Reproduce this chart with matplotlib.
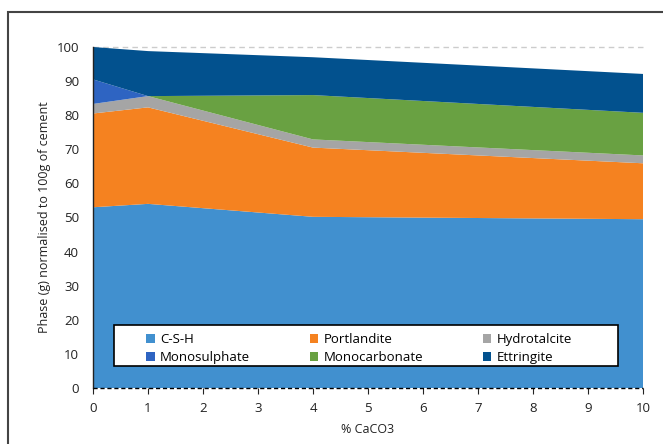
import matplotlib
matplotlib.use("Agg")
import matplotlib.pyplot as plt
from matplotlib.patches import Rectangle, Patch

plt.rcParams['font.family'] = ['Open Sans', 'DejaVu Sans']

caco3 = [0, 1, 4, 10]
csh = [53.0, 54.0, 50.2, 49.5]
portlandite = [27.5, 28.3, 20.3, 16.4]
hydrotalcite = [2.8, 3.3, 2.4, 2.3]
monosulphate = [7.2, 0.0, 0.0, 0.0]
monocarbonate = [0.0, 0.0, 13.0, 12.5]
ettringite = [9.5, 13.2, 11.1, 11.4]

labels = ['C-S-H', 'Portlandite', 'Hydrotalcite', 'Monosulphate', 'Monocarbonate', 'Ettringite']
colors = ['#4190CF', '#F58220', '#A5A5A5', '#2E64C2', '#69A142', '#02518E']
xticks = list(range(0, 11))
yticks = list(range(0, 101, 10))

fig = plt.figure(figsize=(6.63, 4.44), dpi=100)
ax = fig.add_axes([93/663, 1-388/444, 550/663, 341/444])

ax.stackplot(caco3, csh, portlandite, hydrotalcite, monosulphate, monocarbonate, ettringite,
             colors=colors, labels=labels, linewidth=0, zorder=2)

ax.set_xlim(0, 10)
ax.set_ylim(0, 100)
ax.set_xticks(xticks)
ax.set_yticks(yticks)
ax.tick_params(axis='y', length=0, labelsize=9.5, pad=10, colors='#222222')
ax.tick_params(axis='x', length=4, direction='out', labelsize=9.5, pad=6, colors='#222222')
for s in ['top', 'right']:
    ax.spines[s].set_visible(False)
ax.spines['left'].set_color('#222222')
ax.spines['left'].set_linewidth(1.0)
ax.spines['bottom'].set_visible(False)
ax.axhline(0, color='black', linestyle=(0, (3, 2)), linewidth=1.0, zorder=3, clip_on=False)
ax.axhline(100, color='#cccccc', linestyle=(0, (4, 3)), linewidth=1.0, zorder=1, clip_on=False)

ax.set_xlabel('% CaCO3', fontsize=9, color='#222222', labelpad=6)
ax.set_ylabel('Phase (g) normalised to 100g of cement', fontsize=9, color='#222222', labelpad=4)

# legend box
ax.add_patch(Rectangle((21/550, 22/341), 504/550, 41/341, transform=ax.transAxes,
                       facecolor='white', edgecolor='black', linewidth=1.2, zorder=4))

handles = [Patch(facecolor=c, edgecolor='none') for c in colors]
order = [0, 3, 1, 4, 2, 5]
leg = ax.legend([handles[i] for i in order], [labels[i] for i in order], ncol=3,
                loc='lower left', bbox_to_anchor=(53/550, 24/341, 426/550, 37/341),
                mode='expand', frameon=False,
                fontsize=9.5, handlelength=0.65, handleheight=0.65, handletextpad=0.4,
                borderpad=0.0, labelspacing=0.35, borderaxespad=0)
leg.set_zorder(5)

fig.patches.append(Rectangle((8/663, -0.1), 2.0, 1.1 - 12/444, transform=fig.transFigure,
                             fill=False, edgecolor='#444444', linewidth=1.5))

fig.savefig('out.png', dpi=100)
